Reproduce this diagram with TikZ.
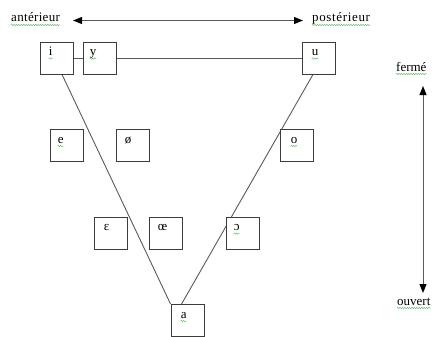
\documentclass[tikz,border=0pt]{standalone}
\usepackage{fontspec}
\setmainfont{Liberation Serif}
\usetikzlibrary{arrows.meta,calc,backgrounds,decorations.pathmorphing}
\definecolor{boxc}{HTML}{3C3C3C}
\definecolor{linec}{HTML}{5A5A5A}
\definecolor{sqc}{HTML}{6CC070}
\tikzset{
  vbox/.style={draw=boxc, line width=0.9pt, fill=white, minimum width=33pt, minimum height=32pt, inner sep=0pt},
  lt/.style={anchor=base west, inner sep=0pt},
  conn/.style={draw=linec, line width=0.9pt},
  arr/.style={draw=linec, line width=1pt, {Triangle[length=9pt,width=7pt,black]}-{Triangle[length=9pt,width=7pt,black]}},
  sq/.style={draw=sqc, line width=0.5pt, decorate, decoration={snake, amplitude=0.7pt, segment length=2.4pt}}
}
\newcommand{\squig}[1]{\draw[sq] ([yshift=-3pt]#1.base west) -- ([yshift=-3pt]#1.base east);}
\newfontfamily\widefont[LetterSpace=2.5]{Liberation Serif}
\newfontfamily\widerfont[LetterSpace=5]{Liberation Serif}
\begin{document}
\begin{tikzpicture}[x=1pt,y=-1pt,font=\fontsize{13}{15}\selectfont]
\useasboundingbox (0,0) rectangle (439,337);
% top labels and arrow
\node[lt] (ant) at (11,22) {\widefont antérieur};
\node[lt] (post) at (312,22) {\widerfont postérieur};
\coordinate (hl) at (73,20.5);
\coordinate (hr) at (303,20.5);
\draw[arr] (hl) -- (hr);
% right labels and arrow
\node[lt] (ferme) at (396,71) {fermé};
\node[lt] (ouvert) at (397,305) {ouvert};
\coordinate (vt) at (423,86);
\coordinate (vb) at (423,293);
\draw[arr] (vt) -- (vb);
% boxes
\node[vbox] (i) at (56.5,58) {};
\node[vbox] (y) at (99.5,58) {};
\node[vbox] (u) at (318.5,58) {};
\node[vbox] (e) at (66.5,145.5) {};
\node[vbox] (oe1) at (132.5,145.5) {};
\node[vbox] (o) at (296.5,145.5) {};
\node[vbox] (eps) at (110.5,233) {};
\node[vbox] (oe2) at (165.5,233) {};
\node[vbox] (oo) at (242.5,233) {};
\node[vbox] (a) at (187.5,320.5) {};
% letters
\node[lt] (ti) at ($(i.north west)+(9,14)$) {i};
\node[lt] (ty) at ($(y.north west)+(7,14)$) {y};
\node[lt] (tu) at ($(u.north west)+(10,14)$) {u};
\node[lt] (te) at ($(e.north west)+(8,14)$) {e};
\node[lt] (toe1) at ($(oe1.north west)+(9,14)$) {ø};
\node[lt] (to) at ($(o.north west)+(11,14)$) {o};
\node[lt] (teps) at ($(eps.north west)+(10,14)$) {ɛ};
\node[lt] (toe2) at ($(oe2.north west)+(9,14)$) {œ};
\node[lt] (too) at ($(oo.north west)+(8,14)$) {ɔ};
\node[lt] (ta) at ($(a.north west)+(10,14)$) {a};
% connectors behind boxes
\begin{scope}[on background layer]
\draw[conn] (i) -- (y);
\draw[conn] (y) -- (u);
\draw[conn] ($(i.south)+(5.5,0)$) -- (a.north west);
\draw[conn] ($(u.south)+(-5.5,0)$) -- ($(a.north west)+(11,0)$);
\end{scope}
% spell-check squiggles
\squig{ant}
\squig{post}
\squig{ferme}
\squig{ouvert}
\squig{ti}
\squig{ty}
\squig{tu}
\squig{te}
\squig{to}
\squig{too}
\squig{ta}
\end{tikzpicture}
\end{document}
